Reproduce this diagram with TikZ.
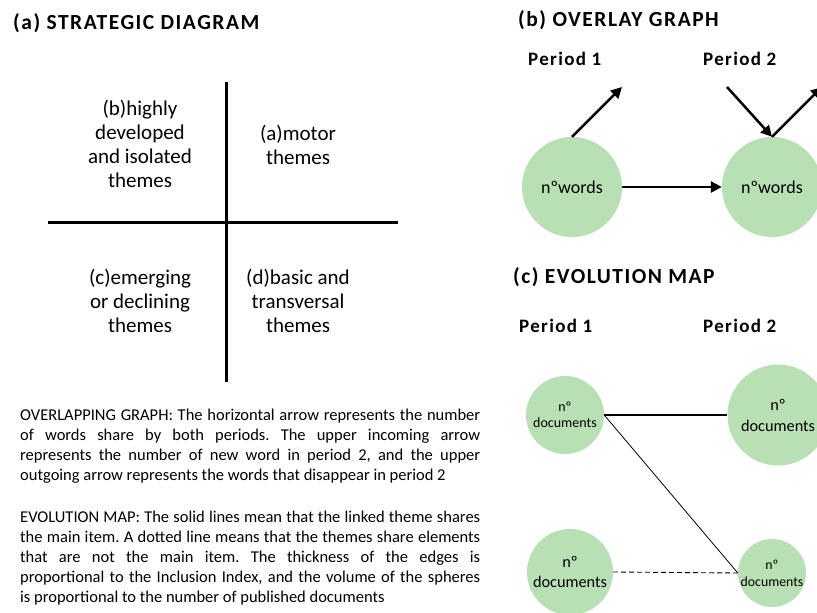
\documentclass[tikz,border=0pt]{standalone}
\usepackage{fontspec}
\setmainfont{Carlito}
\newfontfamily\headfont[LetterSpace=7]{Carlito}
\usetikzlibrary{arrows.meta}
\definecolor{bubblegreen}{RGB}{185,224,180}
\tikzset{
  head/.style={anchor=base west,inner sep=0pt,font=\headfont\bfseries\fontsize{21.5}{24}\selectfont},
  period/.style={anchor=base west,inner sep=0pt,font=\headfont\bfseries\fontsize{19}{22}\selectfont},
  quad/.style={align=center,inner sep=0pt,font=\fontsize{21}{24}\selectfont},
  note/.style={anchor=north west,inner sep=0pt,text width=460pt,align=justify,font=\fontsize{16.5}{20}\selectfont\frenchspacing},
  bubble/.style={circle,fill=bubblegreen,draw=none,inner sep=0pt,align=center},
  flow/.style={line width=2.5pt,-{Triangle[length=11pt,width=11pt]}},
}

\begin{document}
\begin{tikzpicture}[x=1pt,y=1pt,yscale=-1]
\useasboundingbox (0,0) rectangle (817,613);

% Text Node
\node [head] (titleA) at (13,29) {(a) STRATEGIC DIAGRAM};
\node [head] (titleB) at (518,27) {(b) OVERLAY GRAPH};
\node [head] (titleC) at (513,283) {(c) EVOLUTION MAP};

%Straight Lines
\coordinate (axtop) at (226,82);
\coordinate (axbot) at (226,382);
\coordinate (axleft) at (48,222);
\coordinate (axright) at (398,222);
\draw [line width=3pt] (axtop) -- (axbot);
\draw [line width=3pt] (axleft) -- (axright);

% Text Node
\node [quad] (quadB) at (140,144) {(b)highly\\developed\\and isolated\\themes};
\node [quad] (quadA) at (298,144.5) {(a)motor\\themes};
\node [quad] (quadC) at (140,301) {(c)emerging\\or declining\\themes};
\node [quad] (quadD) at (298,301) {(d)basic and\\transversal\\themes};

% Text Node
\node [note] (noteOver) at (20,409) {OVERLAPPING GRAPH: The horizontal arrow represents the number\linebreak
of words share by both periods. The upper incoming arrow\linebreak
represents the number of new word in period 2, and the upper\linebreak
outgoing arrow represents the words that disappear in period 2};
\node [note] (noteEvol) at (20,511) {EVOLUTION MAP: The solid lines mean that the linked theme shares\linebreak
the main item. A dotted line means that the themes share elements\linebreak
that are not the main item. The thickness of the edges is\linebreak
proportional to the Inclusion Index, and the volume of the spheres\linebreak
is proportional to the number of published documents};

% Overlay graph
\node [period] (perB1) at (528,65) {Period 1};
\node [period] (perB2) at (703,65) {Period 2};
\node [bubble,minimum size=100pt,font=\fontsize{18}{20}\selectfont] (wordsP1) at (572,187) {nºwords};
\node [bubble,minimum size=100pt,font=\fontsize{18}{20}\selectfont] (wordsP2) at (772,187) {nºwords};
\coordinate (gone1) at (622,87);
\coordinate (newin) at (727,87);
\coordinate (gone2) at (822,87);
\draw [flow] (wordsP1.north) -- (gone1);
\draw [flow] (wordsP1) -- (wordsP2);
\draw [flow] (newin) -- (wordsP2.north);
\draw [flow] (wordsP2.north) -- (gone2);

% Evolution map
\node [period] (perC1) at (519,332) {Period 1};
\node [period] (perC2) at (703,332) {Period 2};
\node [bubble,minimum size=78pt,font=\fontsize{14}{15.5}\selectfont] (themeA1) at (565,415) {nº\\documents};
\node [bubble,minimum size=101pt,font=\fontsize{16.3}{21}\selectfont] (themeA2) at (778,415) {nº\\documents};
\node [bubble,minimum size=86pt,font=\fontsize{16.3}{20}\selectfont] (themeB1) at (570,572) {nº\\documents};
\node [bubble,minimum size=66pt,font=\fontsize{13.8}{17}\selectfont] (themeB2) at (772,573) {nº\\documents};
\draw [line width=2.8pt] (themeA1.east) -- (themeA2.west);
\draw [line width=0.8pt] (themeA1.east) -- (themeB2.west);
\draw [line width=0.9pt,dash pattern=on 5pt off 3pt] (themeB1.east) -- (themeB2.west);

\end{tikzpicture}
\end{document}
